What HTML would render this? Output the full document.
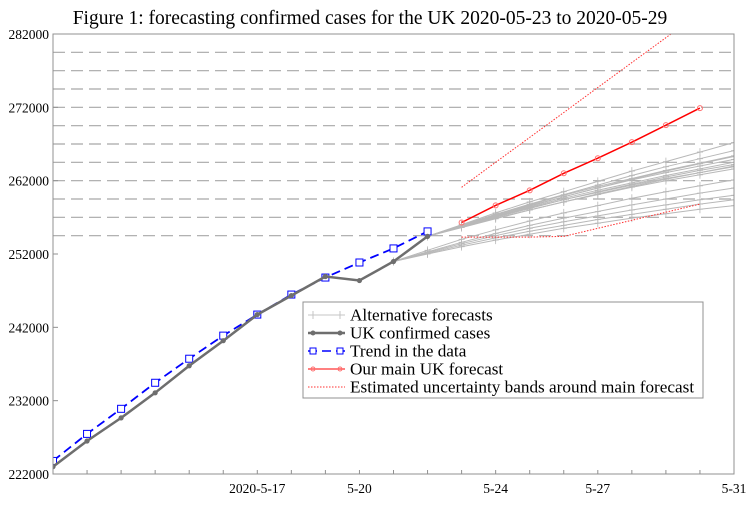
<!DOCTYPE html>
<html><head><meta charset="utf-8"><style>
html,body{margin:0;padding:0;background:#fff;}
svg{display:block;font-family:"Liberation Serif",serif;}
</style></head><body>
<svg id="c" width="754" height="509" viewBox="0 0 754 509"></svg>
<script>
const yTicks=[222000,232000,242000,252000,262000,272000,282000];
const gridVals=[254500,257000,259500,262000,264500,267000,269500,272000,274500,277000,279500];
const xTickLabels=["2020-5-17","5-20","5-24","5-27","5-31"];
const xTickDays=[6,9,13,16,20];
const confirmed=[223000,226500,229650,233070,236760,240180,243740,246330,248930,248380,250980,254400];
const trend=[223780,227470,230890,234440,237720,240870,243740,246470,248790,250840,252760,255080];
const mainForecast=[256300,258630,260680,263010,265060,267250,269570,271900];
const upperBand=[261100,264500,267900,271300,274700,278100,281500,284900];
const lowerBand=[254300,254300,254300,254400,255500,256600,257700,258800];
const altA=[
[254400,256000,257600,259100,260500,261900,263300,264600,265900,267200],
[254400,255900,257400,258800,260100,261400,262700,263900,265000,266100],
[254400,255800,257200,258500,259800,261000,262200,263300,264300,265300],
[254400,255900,257300,258600,259800,261000,262100,263100,264000,264900],
[254400,255700,257000,258200,259400,260500,261500,262500,263400,264200],
[254400,255800,257100,258300,259400,260400,261400,262300,263100,263900],
[254400,255600,256800,258000,259100,260200,261200,262200,263100,264000],
[254400,255800,257100,258400,259600,260700,261700,262700,263600,264500],
[254400,255700,256900,258000,259100,260100,261100,262000,262800,263600],
[254400,255900,257400,258700,260000,261200,262300,263400,264400,265400]];
const altB=[
[250980,252500,254000,255300,256500,257600,258600,259600,260500,261300,262100],
[250980,252300,253600,254800,255900,256900,257800,258700,259500,260300,261000],
[250980,252200,253400,254500,255500,256400,257200,258000,258700,259400,260000],
[250980,252100,253200,254200,255100,255900,256700,257400,258100,258800,259400],
[250980,252000,253000,253900,254700,255500,256200,256900,257500,258100,258600]];

const L=53,R=734,T=34,B=474,DAY=(R-L)/20;
const X=d=>L+d*DAY;
const Y=v=>B-(v-222000)/60000*(B-T);
const svg=document.getElementById('c');
const NS="http://www.w3.org/2000/svg";
function mk(tag,attrs,parent){const e=document.createElementNS(NS,tag);for(const k in attrs)e.setAttribute(k,attrs[k]);(parent||svg).appendChild(e);return e;}
const pts=(arr,s)=>arr.map((v,i)=>X(s+i).toFixed(1)+","+Y(v).toFixed(1)).join(" ");

const defs=mk('defs',{});
const cp=mk('clipPath',{id:'clip'},defs);mk('rect',{x:L,y:T,width:R-L,height:B-T},cp);

const title=mk('text',{x:370,y:24,'text-anchor':'middle','font-size':'19.5'});
title.textContent="Figure 1: forecasting confirmed cases for the UK 2020-05-23 to 2020-05-29";



gridVals.forEach(v=>{const g=mk('line',{x1:L,x2:R,y1:Y(v),y2:Y(v),stroke:'#a8a8a8','stroke-width':1.2,'stroke-dasharray':'12,6'});

});

const plot=mk('g',{'clip-path':'url(#clip)'});



function series(arr,start,name){
 const pl=mk('polyline',{points:pts(arr,start),fill:'none',stroke:'#b8b8b8','stroke-width':1},plot);
 
 
 arr.forEach((v,i)=>{const m=mk('path',{d:`M${X(start+i)-3},${Y(v)}h6M${X(start+i)},${Y(v)-4}v8`,stroke:'#b8b8b8','stroke-width':0.8},plot);
 
 });
}
altA.forEach(a=>series(a,11,'alt-forecast-line'));
altB.forEach(a=>series(a,10,'alt-forecast-line'));

const ub=mk('polyline',{points:pts(upperBand,12),fill:'none',stroke:'#ff3030','stroke-width':1,'stroke-dasharray':'1.5,1.5'},plot);


const lb=mk('polyline',{points:pts(lowerBand,12),fill:'none',stroke:'#ff3030','stroke-width':1,'stroke-dasharray':'1.5,1.5'},plot);



const mf=mk('polyline',{points:pts(mainForecast,12),fill:'none',stroke:'#ff0000','stroke-width':1.5},plot);


mainForecast.forEach((v,i)=>{const c=mk('circle',{cx:X(12+i),cy:Y(v),r:2.5,fill:'none',stroke:'#ff7070','stroke-width':1},plot);

});

const tr=mk('polyline',{points:pts(trend,0),fill:'none',stroke:'#0000ff','stroke-width':1.8,'stroke-dasharray':'9,5'},plot);


trend.forEach((v,i)=>{const r=mk('rect',{x:X(i)-3.5,y:Y(v)-3.5,width:7,height:7,fill:'#fff',stroke:'#0000ff','stroke-width':1},plot);

});

const cf=mk('polyline',{points:pts(confirmed,0),fill:'none',stroke:'#6e6e6e','stroke-width':2.5},plot);


confirmed.forEach((v,i)=>{const c=mk('circle',{cx:X(i),cy:Y(v),r:2.6,fill:'#6e6e6e'},plot);

});

const fr=mk('rect',{x:L,y:T,width:R-L,height:B-T,fill:'none',stroke:'#909090','stroke-width':1});



yTicks.forEach(v=>{const t=mk('text',{x:49,y:Y(v)+5,'text-anchor':'end','font-size':'13.5'});t.textContent=v;


mk('line',{x1:L,x2:L+5,y1:Y(v),y2:Y(v),stroke:'#909090'});});
for(let d=0;d<=20;d++){const tk=mk('line',{x1:X(d),x2:X(d),y1:B,y2:B-4,stroke:'#909090'});

}
xTickLabels.forEach((s,i)=>{const t=mk('text',{x:X(xTickDays[i]),y:493,'text-anchor':'middle','font-size':'13.5'});t.textContent=s;

});

const lg=mk('g',{});


mk('rect',{x:303,y:302,width:400,height:96,fill:'#fff',stroke:'#909090','stroke-width':1},lg);
const items=["Alternative forecasts","UK confirmed cases","Trend in the data","Our main UK forecast","Estimated uncertainty bands around main forecast"];
items.forEach((s,i)=>{const y=315+i*18;
 const ln=mk('line',{x1:308,x2:345,y1:y,y2:y},lg);
 if(i==0){ln.setAttribute('stroke','#c4c4c4');mk('path',{d:`M313,${y-4}v8M340,${y-4}v8`,stroke:'#c4c4c4'},lg);}
 if(i==1){ln.setAttribute('stroke','#6e6e6e');ln.setAttribute('stroke-width','2.5');mk('circle',{cx:313,cy:y,r:2.5,fill:'#6e6e6e'},lg);mk('circle',{cx:340,cy:y,r:2.5,fill:'#6e6e6e'},lg);}
 if(i==2){ln.setAttribute('stroke','#0000ff');ln.setAttribute('stroke-width','1.5');ln.setAttribute('stroke-dasharray','9,5');mk('rect',{x:310,y:y-3,width:6,height:6,fill:'#fff',stroke:'#00f'},lg);mk('rect',{x:337,y:y-3,width:6,height:6,fill:'#fff',stroke:'#00f'},lg);}
 if(i==3){ln.setAttribute('stroke','#ff0000');mk('circle',{cx:313,cy:y,r:2,fill:'none',stroke:'#ff7070'},lg);mk('circle',{cx:340,cy:y,r:2,fill:'none',stroke:'#ff7070'},lg);}
 if(i==4){ln.setAttribute('stroke','#ff3030');ln.setAttribute('stroke-dasharray','1.5,1.5');}
 const t=mk('text',{x:350,y:y+5.5,'font-size':'17.2'},lg);t.textContent=s;
 
 
});
</script>
</body></html>
